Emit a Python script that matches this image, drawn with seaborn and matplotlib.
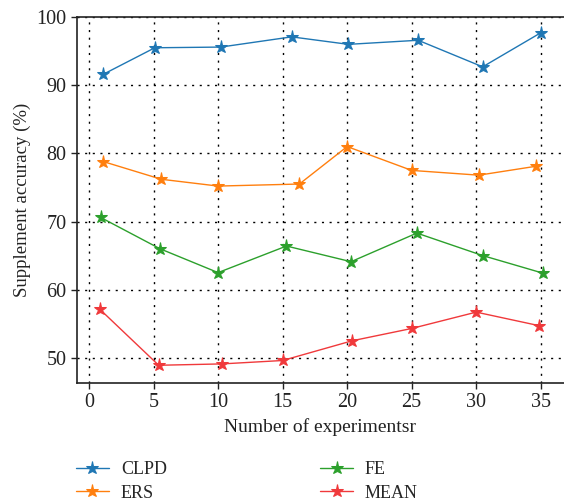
import matplotlib
matplotlib.use("Agg")
import matplotlib.pyplot as plt
import numpy as np
import pandas as pd
import seaborn as sns

# values
clpd_x = [1.1, 5.1, 10.2, 15.7, 20.1, 25.5, 30.5, 35.0]
clpd_y = [91.6, 95.5, 95.6, 97.1, 96.0, 96.6, 92.7, 97.7]
ers_x = [1.1, 5.6, 10.0, 16.3, 20.0, 25.0, 30.2, 34.6]
ers_y = [78.8, 76.2, 75.2, 75.5, 81.0, 77.5, 76.8, 78.1]
fe_x = [0.9, 5.5, 10.0, 15.3, 20.3, 25.4, 30.5, 35.2]
fe_y = [70.6, 66.0, 62.5, 66.4, 64.1, 68.3, 65.0, 62.4]
mean_x = [0.85, 5.4, 10.3, 15.0, 20.4, 25.0, 30.0, 34.9]
mean_y = [57.1, 48.9, 49.1, 49.6, 52.5, 54.3, 56.7, 54.7]

labels = ["CLPD", "ERS", "FE", "MEAN"]
colors = ["#1f77b4", "#ff7f0e", "#2ca02c", "#f0393b"]

df = pd.concat([
    pd.DataFrame({"x": clpd_x, "y": clpd_y, "method": "CLPD"}),
    pd.DataFrame({"x": ers_x, "y": ers_y, "method": "ERS"}),
    pd.DataFrame({"x": fe_x, "y": fe_y, "method": "FE"}),
    pd.DataFrame({"x": mean_x, "y": mean_y, "method": "MEAN"}),
])

sns.set_style("white")
plt.rcParams["font.family"] = ["Liberation Serif", "DejaVu Serif"]

fig = plt.figure(figsize=(5.64, 5.03), dpi=100)
ax = fig.add_axes([0.1365, 0.2386, 0.8635, 0.7274])

for lab, col in zip(labels, colors):
    sub = df[df["method"] == lab]
    sns.lineplot(data=sub, x="x", y="y", ax=ax, color=col, marker="*",
                 markersize=9.5, markeredgecolor=col, linewidth=1.0,
                 label=lab, sort=False, estimator=None)

ax.set_xlim(-0.93, 36.8)
ax.set_ylim(46.3, 100)
ax.set_xticks(range(0, 36, 5))
ax.set_yticks(range(50, 101, 10))
ax.grid(True, color="black", linestyle=(0, (1.5, 4)), linewidth=1.0)
for s in ["left", "bottom", "top"]:
    ax.spines[s].set_color("#222222")
    ax.spines[s].set_linewidth(1.2)
ax.spines["right"].set_visible(False)
ax.tick_params(axis="both", direction="out", length=4, width=1, colors="#222222",
               labelsize=14.5, left=True, bottom=True)
ax.set_xlabel("Number of experimentsr", fontsize=14, color="#222222")
ax.set_ylabel("Supplement accuracy (%)", fontsize=13.5, color="#222222")

ax.legend(loc="upper left", bbox_to_anchor=(-0.035, -0.17), ncol=2, frameon=False,
          fontsize=13, columnspacing=8.5, handlelength=1.8, labelspacing=0.35,
          handletextpad=0.67)

fig.savefig("out.png", dpi=100)
